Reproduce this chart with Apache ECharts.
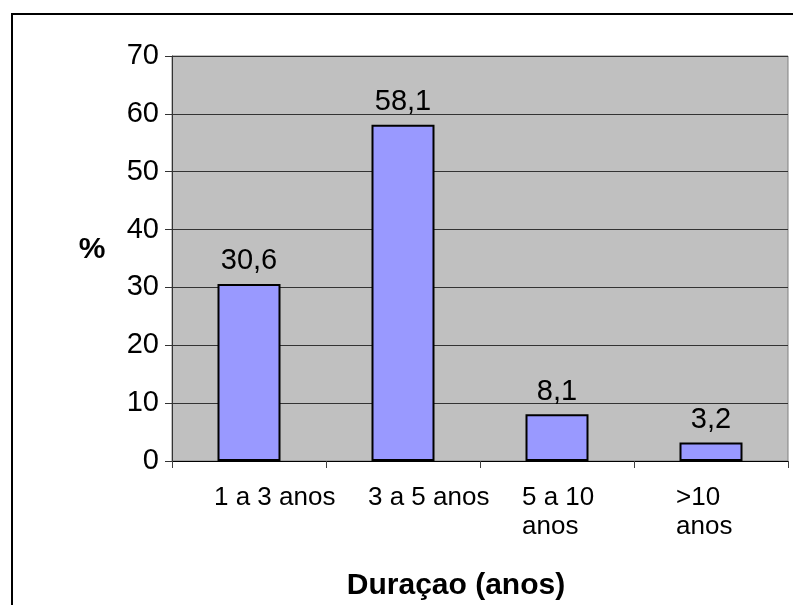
<!DOCTYPE html>
<html><head><meta charset="utf-8">
<script src="https://cdn.jsdelivr.net/npm/echarts@6/dist/echarts.min.js"></script>
<style>html,body{margin:0;padding:0;background:#fff}#c{width:793px;height:605px}</style>
</head><body><div id="c"></div>
<script>
const categories = ['1 a 3 anos', '3 a 5 anos', '5 a 10\nanos', '>10\nanos'];
const values = [30.6, 58.1, 8.1, 3.2];
const yMin = 0, yMax = 70, yInterval = 10;
const xTitle = 'Duraçao (anos)';
const yTitle = '%';

const FONT = '"Liberation Sans", Arial, sans-serif';
const chart = echarts.init(document.getElementById('c'), null, {renderer: 'canvas'});
chart.setOption({
  animation: false,
  backgroundColor: '#fff',
  grid: {left: 172, top: 56, right: 5, bottom: 144, show: true,
         backgroundColor: '#C0C0C0', borderColor: '#808080', borderWidth: 1,
         containLabel: false, outerBoundsMode: 'none'},
  xAxis: {
    type: 'category', data: categories,
    axisLine: {lineStyle: {color: '#000', width: 1}},
    axisTick: {show: true, length: 7, lineStyle: {color: '#404040'}},
    axisLabel: {
      margin: 22, color: '#000', fontFamily: FONT, fontSize: 26, interval: 0,
      formatter: v => v.split('\n').map(l => '{t|' + l + '}').join('\n'),
      rich: {t: {width: 70, align: 'left', fontSize: 26, lineHeight: 29, fontFamily: FONT, color: '#000'}}
    },
    splitLine: {show: false}
  },
  yAxis: {
    type: 'value', min: yMin, max: yMax, interval: yInterval,
    axisLine: {show: true, lineStyle: {color: '#333', width: 1}},
    axisTick: {show: true, length: 7, lineStyle: {color: '#333'}},
    axisLabel: {margin: 13, color: '#000', fontFamily: FONT, fontSize: 29},
    splitLine: {show: true, lineStyle: {color: '#333', width: 1}}
  },
  series: [{
    type: 'bar', data: values, barWidth: 63,
    itemStyle: {color: '#9999FF', borderColor: '#000', borderWidth: 2},
    label: {show: true, position: 'top', distance: 8, color: '#000',
            fontFamily: FONT, fontSize: 29,
            formatter: p => String(p.value).replace('.', ',')}
  }],
  graphic: [
    {type: 'rect', z: 100, shape: {x: 12, y: 14, width: 800, height: 700},
     style: {fill: 'none', stroke: '#000', lineWidth: 2}},
    {type: 'text', z: 100, x: 456, y: 586,
     style: {text: xTitle, fontFamily: FONT, fontSize: 30, fontWeight: 'bold', fill: '#000',
             textAlign: 'center', textVerticalAlign: 'middle'}},
    {type: 'text', z: 100, x: 92, y: 250,
     style: {text: yTitle, fontFamily: FONT, fontSize: 30, fontWeight: 'bold', fill: '#000',
             textAlign: 'center', textVerticalAlign: 'middle'}}
  ]
});
</script></body></html>
